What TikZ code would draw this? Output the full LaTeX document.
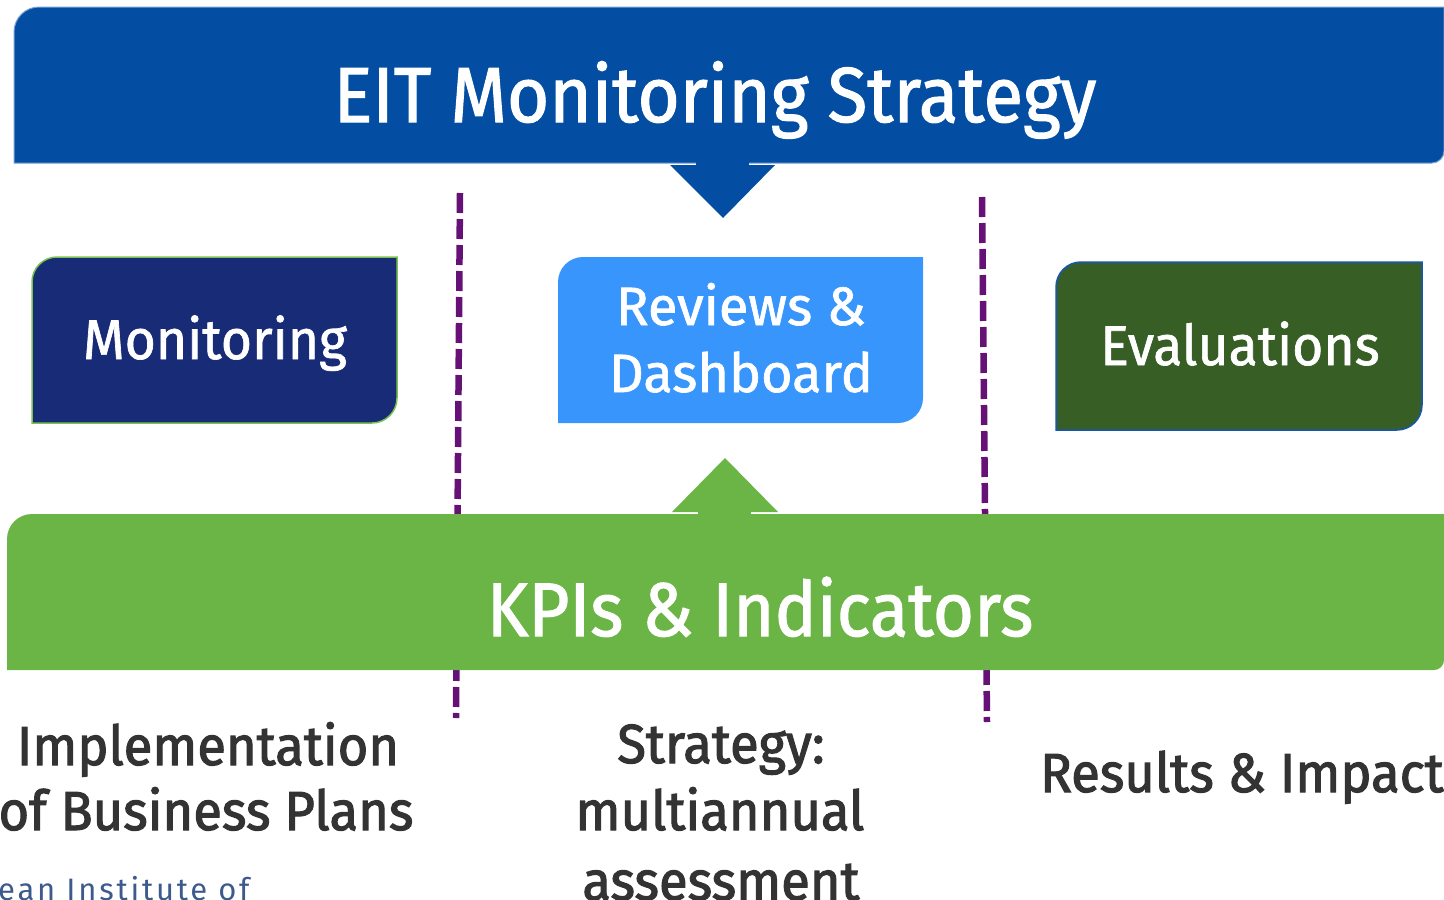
\documentclass[tikz,border=0pt]{standalone}
\usepackage{fontspec}
\setmainfont{Fira Sans}
\newfontfamily\titlefont{Fira Sans}[FakeBold=1.4,FakeStretch=0.93]
\newfontfamily\medfont{Fira Sans}[FakeBold=1.2,FakeStretch=0.955]
\newfontfamily\revfont{Fira Sans}[FakeBold=1.2]
\newfontfamily\semifont{Fira Sans}[FakeBold=2,FakeStretch=0.955]
\newfontfamily\logofont{Fira Sans}[LetterSpace=9]
\definecolor{eitblue}{RGB}{3,78,162}
\definecolor{eitline}{RGB}{120,160,215}
\definecolor{kpigreen}{RGB}{106,181,69}
\definecolor{navy}{RGB}{23,43,119}
\definecolor{navyedge}{RGB}{122,193,80}
\definecolor{skyblue}{RGB}{55,149,251}
\definecolor{darkgreen}{RGB}{54,94,37}
\definecolor{dgedge}{RGB}{22,86,180}
\definecolor{divpurple}{RGB}{101,17,117}
\definecolor{textgray}{RGB}{51,51,51}
\definecolor{logoblue}{RGB}{60,90,140}
\begin{document}
\begin{tikzpicture}[x=1pt,y=-1pt,
  tlbr/.style n args={6}{insert path={(#1,#4) -- (#1,#2+#5) arc[start angle=180,end angle=270,radius=#5] -- (#3,#2) -- (#3,#4-#6) arc[start angle=0,end angle=90,radius=#6] -- cycle}},
  bigtext/.style={anchor=base,text=white,inner sep=0pt,font=\titlefont\fontsize{78}{78}\selectfont},
  boxtext/.style={anchor=base,text=white,inner sep=0pt,font=\medfont\fontsize{56}{56}\selectfont},
  undertext/.style={anchor=base,text=textgray,inner sep=0pt,font=\semifont\fontsize{55}{55}\selectfont},
  divider/.style={divpurple,line width=6.5,dash pattern=on 20 off 6}
]
\useasboundingbox (0,0) rectangle (1444,900);
\clip (0,0) rectangle (1444,900);

% dividers (behind the green bar)
\coordinate (d1a) at (460,193);
\coordinate (d1b) at (456,718);
\coordinate (d2a) at (982,197);
\coordinate (d2b) at (987,722);
\draw[divider] (d1a) -- (d1b);
\draw[divider] (d2a) -- (d2b);

% title banner with down arrow
\path[fill=eitblue,draw=eitline,line width=1,tlbr={14}{7}{1444}{163}{25}{12}];
\fill[eitblue] (696,150) rectangle (749,166);
\fill[eitblue] (670,165) -- (775,165) -- (723,218) -- cycle;
\node[bigtext] (title) at (715,122) {EIT Monitoring Strategy};

% KPI bar with up arrow
\path[fill=kpigreen,tlbr={7}{514}{1444}{670}{25}{10}];
\fill[kpigreen] (698,500) rectangle (751,516);
\fill[kpigreen] (672,512) -- (778,512) -- (725,458) -- cycle;
\node[bigtext,font=\titlefont\fontsize{76}{76}\selectfont] (kpi) at (760,636) {KPIs \& Indicators};

% three boxes
\path[fill=navy,draw=navyedge,line width=1.5,tlbr={32}{257}{397}{423}{25}{25}];
\node[boxtext] (mon) at (215,359) {Monitoring};

\path[fill=skyblue,tlbr={558}{257}{923}{423}{25}{25}];
\node[boxtext,font=\revfont\fontsize{54}{54}\selectfont] (rev1) at (741,325) {Reviews \&};
\node[boxtext,font=\revfont\fontsize{54}{54}\selectfont] (rev2) at (741,392) {Dashboard};

\path[fill=darkgreen,draw=dgedge,line width=1.5,tlbr={1056}{262}{1422}{430}{25}{25}];
\node[boxtext] (eval) at (1240,365) {Evaluations};

% texts below
\node[undertext] (impl1) at (208,765) {Implementation};
\node[undertext] (impl2) at (206,830) {of Business Plans};
\node[undertext] (str1) at (721,763) {Strategy:};
\node[undertext] (str2) at (720,830) {multiannual};
\node[undertext] (str3) at (721,900) {assessment};
\node[undertext,anchor=base west] (res) at (1040,792) {Results \& Impact};

\node[anchor=base west,inner sep=0pt,text=logoblue,font=\logofont\fontsize{31}{31}\selectfont] (logo) at (-2,900) {ean Institute of};
\end{tikzpicture}
\end{document}
